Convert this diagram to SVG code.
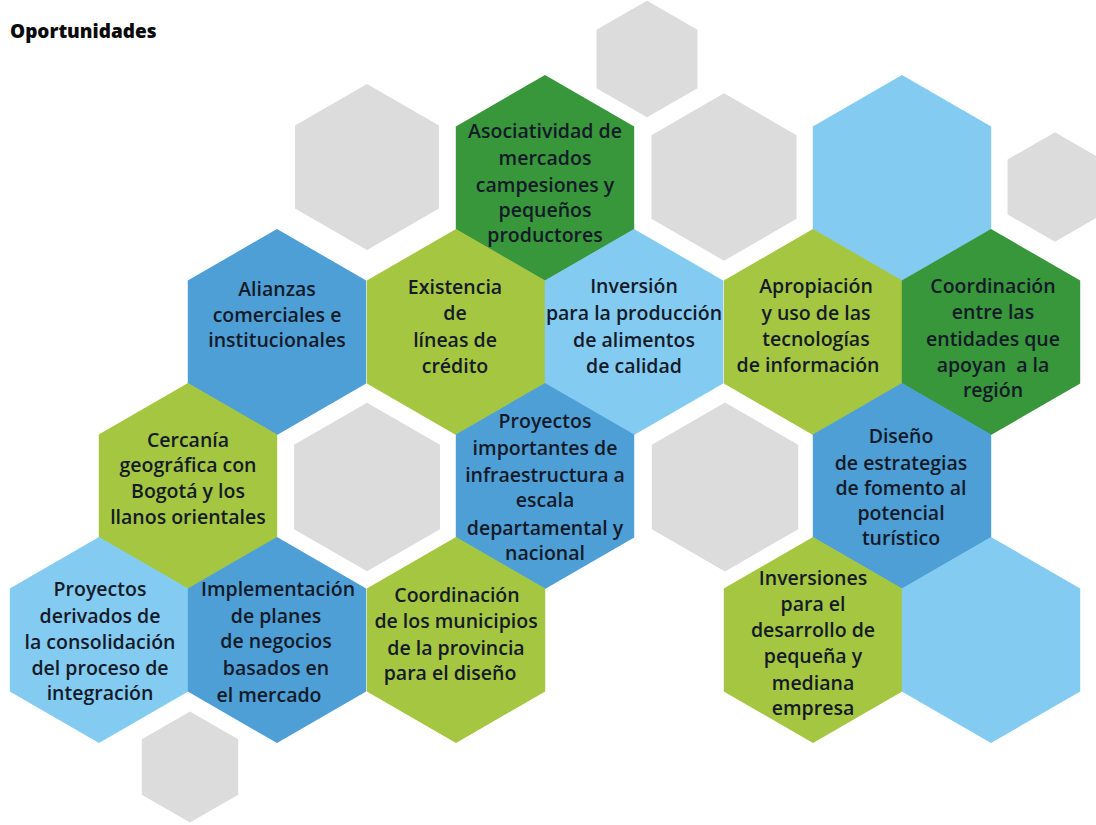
<svg xmlns="http://www.w3.org/2000/svg" width="1096" height="825" viewBox="0 0 1096 825">
<defs>
<polygon id="hex" points="0,-103 89.2,-51.5 89.2,51.5 0,103 -89.2,51.5 -89.2,-51.5"/>
<style>
.mb{fill:#4E9FD6}
.lg{fill:#A4C641}
.dg{fill:#38963B}
.lb{fill:#84CBF2}
.gr{fill:#DCDCDC}
.t{font-family:"Open Sans","Noto Sans","Liberation Sans",sans-serif;font-size:19.5px;font-weight:600;fill:#141A28;text-anchor:middle}
.title{font-family:"Open Sans","Noto Sans","Liberation Sans",sans-serif;font-size:19px;font-weight:800;fill:#0A0A0A}
</style>
</defs>
<rect width="1096" height="825" fill="#FFFFFF"/>
<text class="title" x="10" y="38">Oportunidades</text>

<g id="decor">
<use href="#hex" class="gr" transform="translate(367,167) scale(0.807)"/>
<use href="#hex" class="gr" transform="translate(647,59) scale(0.566)"/>
<use href="#hex" class="gr" transform="translate(724,177) scale(0.813)"/>
<use href="#hex" class="gr" transform="translate(1055,187) scale(0.532)"/>
<use href="#hex" class="gr" transform="translate(367,487) scale(0.818)"/>
<use href="#hex" class="gr" transform="translate(725,487) scale(0.82)"/>
<use href="#hex" class="gr" transform="translate(190,767) scale(0.54)"/>
</g>

<g id="connectors"></g>

<g id="asociatividad">
<use href="#hex" class="dg" transform="translate(545,178)"/>
<text class="t"><tspan x="545" y="138">Asociatividad de</tspan><tspan x="545" y="165">mercados</tspan><tspan x="545" y="192">campesiones y</tspan><tspan x="545" y="217">pequeños</tspan><tspan x="545" y="242">productores</tspan></text>
</g>

<g id="blank-top-right">
<use href="#hex" class="lb" transform="translate(902,178)"/>
</g>

<g id="alianzas">
<use href="#hex" class="mb" transform="translate(277,332)"/>
<text class="t"><tspan x="277" y="296">Alianzas</tspan><tspan x="277" y="322">comerciales e</tspan><tspan x="277" y="347">institucionales</tspan></text>
</g>

<g id="existencia">
<use href="#hex" class="lg" transform="translate(456,332)"/>
<text class="t"><tspan x="455" y="294">Existencia</tspan><tspan x="455" y="320">de</tspan><tspan x="455" y="347">líneas de</tspan><tspan x="455" y="373">crédito</tspan></text>
</g>

<g id="inversion">
<use href="#hex" class="lb" transform="translate(634,332)"/>
<text class="t"><tspan x="634" y="293">Inversión</tspan><tspan x="634" y="320">para la producción</tspan><tspan x="634" y="347">de alimentos</tspan><tspan x="634" y="373">de calidad</tspan></text>
</g>

<g id="apropiacion">
<use href="#hex" class="lg" transform="translate(813,332)"/>
<text class="t"><tspan x="816" y="293">Apropiación</tspan><tspan x="816" y="320">y uso de las</tspan><tspan x="816" y="346">tecnologías</tspan><tspan x="808" y="372">de información</tspan></text>
</g>

<g id="coordinacion-entidades">
<use href="#hex" class="dg" transform="translate(991,332)"/>
<text class="t" xml:space="preserve"><tspan x="993" y="293">Coordinación</tspan><tspan x="993" y="319">entre las</tspan><tspan x="993" y="346">entidades que</tspan><tspan x="993" y="372">apoyan  a la</tspan><tspan x="993" y="397">región</tspan></text>
</g>

<g id="cercania">
<use href="#hex" class="lg" transform="translate(188,486)"/>
<text class="t"><tspan x="188" y="447">Cercanía</tspan><tspan x="188" y="472">geográfica con</tspan><tspan x="188" y="498">Bogotá y los</tspan><tspan x="188" y="524">llanos orientales</tspan></text>
</g>

<g id="proyectos-infraestructura">
<use href="#hex" class="mb" transform="translate(545,486)"/>
<text class="t"><tspan x="545" y="428">Proyectos</tspan><tspan x="545" y="455">importantes de</tspan><tspan x="545" y="482">infraestructura a</tspan><tspan x="545" y="507">escala</tspan><tspan x="545" y="535">departamental y</tspan><tspan x="545" y="560">nacional</tspan></text>
</g>

<g id="diseno">
<use href="#hex" class="mb" transform="translate(902,486)"/>
<text class="t"><tspan x="901" y="443">Diseño</tspan><tspan x="901" y="470">de estrategias</tspan><tspan x="901" y="495">de fomento al</tspan><tspan x="901" y="520">potencial</tspan><tspan x="901" y="545">turístico</tspan></text>
</g>

<g id="proyectos-derivados">
<use href="#hex" class="lb" transform="translate(99,640)"/>
<text class="t"><tspan x="100" y="596">Proyectos</tspan><tspan x="100" y="623">derivados de</tspan><tspan x="100" y="649">la consolidación</tspan><tspan x="100" y="675">del proceso de</tspan><tspan x="100" y="700">integración</tspan></text>
</g>

<g id="implementacion">
<use href="#hex" class="mb" transform="translate(277,640)"/>
<text class="t"><tspan x="278" y="596">Implementación</tspan><tspan x="276" y="623">de planes</tspan><tspan x="276" y="648">de negocios</tspan><tspan x="276" y="675">basados en</tspan><tspan x="269" y="702">el mercado</tspan></text>
</g>

<g id="coordinacion-municipios">
<use href="#hex" class="lg" transform="translate(456,640)"/>
<text class="t"><tspan x="457" y="602">Coordinación</tspan><tspan x="456" y="628">de los municipios</tspan><tspan x="456" y="655">de la provincia</tspan><tspan x="450" y="680">para el diseño</tspan></text>
</g>

<g id="inversiones">
<use href="#hex" class="lg" transform="translate(813,640)"/>
<text class="t"><tspan x="813" y="585">Inversiones</tspan><tspan x="813" y="611">para el</tspan><tspan x="813" y="637">desarrollo de</tspan><tspan x="813" y="663">pequeña y</tspan><tspan x="813" y="690">mediana</tspan><tspan x="813" y="715">empresa</tspan></text>
</g>

<g id="blank-bottom-right">
<use href="#hex" class="lb" transform="translate(991,640)"/>
</g>
</svg>
